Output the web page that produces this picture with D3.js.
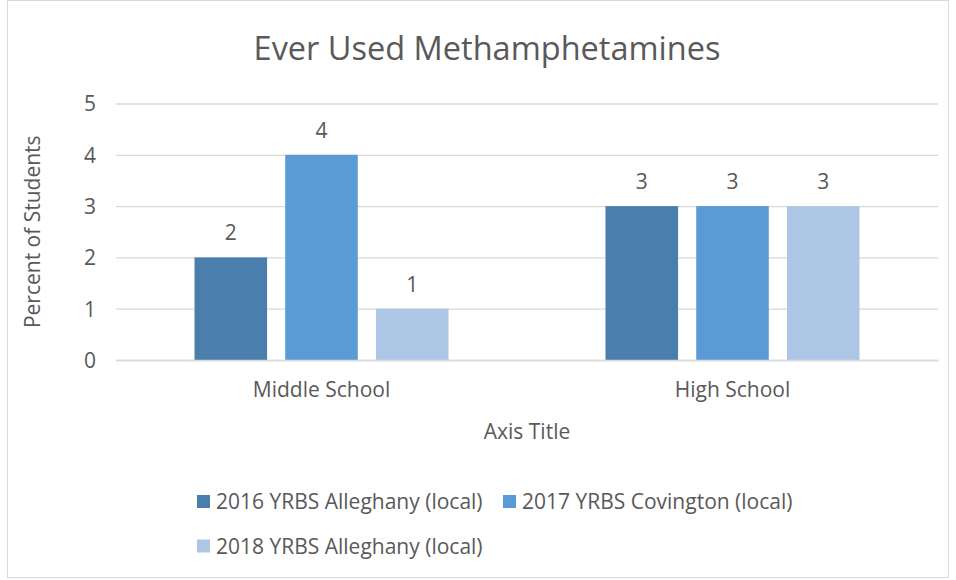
<!DOCTYPE html>
<html><head><meta charset="utf-8">
<script src="https://cdn.jsdelivr.net/npm/d3@7"></script>
<style>body{margin:0;background:#fff}text{font-family:"Open Sans",sans-serif;fill:#595959}</style>
</head><body><svg id="c" width="956" height="580"></svg>
<script>
const title = "Ever Used Methamphetamines";
const categories = ["Middle School", "High School"];
const seriesNames = ["2016 YRBS Alleghany (local)", "2017 YRBS Covington (local)", "2018 YRBS Alleghany (local)"];
const series2016 = [2, 3];
const series2017 = [4, 3];
const series2018 = [1, 3];
const colors = ["#4a7ead", "#5b9bd5", "#adc6e5"];
const yTicks = [0, 1, 2, 3, 4, 5];
const yTitle = "Percent of Students";
const xTitle = "Axis Title";

const FS = 21;
const svg = d3.select("#c");
svg.append("rect").attr("x", 7.5).attr("y", 0.5).attr("width", 941).attr("height", 577)
  .attr("fill", "#fff").attr("stroke", "#d9d9d9");

const m = {l: 116, r: 938, t: 103.5, b: 360};
const x = d3.scaleBand().domain(categories).range([m.l, m.r]);
const y = d3.scaleLinear().domain([0, 5]).range([m.b, m.t]);
const inner = d3.scaleBand().domain(seriesNames).range([78.5, x.bandwidth() - 78.5]).paddingInner(0.2);

const yAxis = d3.axisLeft(y).tickValues(yTicks).tickSize(-(m.r - m.l)).tickFormat(d3.format("d"));
const gy = svg.append("g").attr("transform", `translate(${m.l},0)`).call(yAxis);
gy.select(".domain").remove();
gy.selectAll(".tick line").attr("stroke", "#d9d9d9").attr("stroke-width", 1.3);
gy.selectAll(".tick text").attr("x", -20).attr("dy", "0.35em").attr("font-size", FS).attr("fill", "#595959");

const data = [series2016, series2017, series2018];
data.forEach((vals, si) => {
  const g = svg.append("g");
  g.selectAll("rect").data(categories).join("rect")
    .attr("x", (c) => x(c) + inner(seriesNames[si]))
    .attr("width", inner.bandwidth())
    .attr("y", (c, i) => y(vals[i]))
    .attr("height", (c, i) => y(0) - y(vals[i]))
    .attr("fill", colors[si]);
  g.selectAll("text").data(categories).join("text")
    .attr("x", (c) => x(c) + inner(seriesNames[si]) + inner.bandwidth() / 2)
    .attr("y", (c, i) => y(vals[i]) - 17)
    .attr("text-anchor", "middle").attr("font-size", FS)
    .text((c, i) => vals[i]);
});

const xAxis = d3.axisBottom(x).tickSize(0);
const gx = svg.append("g").attr("transform", `translate(0,${m.b})`).call(xAxis);
gx.select(".domain").attr("stroke", "#d9d9d9").attr("stroke-width", 1.3);
gx.selectAll(".tick text").attr("dy", 0).attr("y", 37).attr("font-size", FS).attr("fill", "#595959");

svg.append("text").attr("x", 487).attr("y", 60).attr("text-anchor", "middle")
  .attr("font-size", 32.5).text(title);
svg.append("text").attr("x", (m.l + m.r) / 2).attr("y", 439).attr("text-anchor", "middle")
  .attr("font-size", FS).text(xTitle);
svg.append("text").attr("transform", `translate(40,${(m.t + m.b) / 2}) rotate(-90)`)
  .attr("text-anchor", "middle").attr("font-size", FS).text(yTitle);

const legendPos = [[197, 501.5], [503, 501.5], [197, 546]];
seriesNames.forEach((s, i) => {
  const g = svg.append("g").attr("transform", `translate(${legendPos[i][0]},${legendPos[i][1]})`);
  g.append("rect").attr("x", 0).attr("y", -6.5).attr("width", 13).attr("height", 13).attr("fill", colors[i]);
  g.append("text").attr("x", 19).attr("y", 7.5).attr("font-size", FS).text(s);
});
</script></body></html>
